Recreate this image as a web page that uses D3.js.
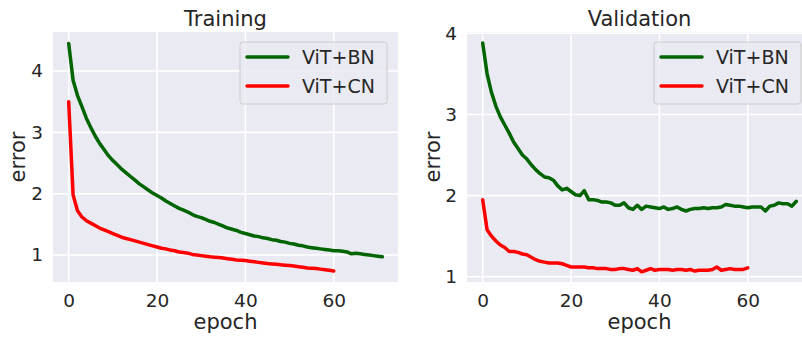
<!DOCTYPE html>
<html>
<head>
<meta charset="utf-8">
<script src="https://cdn.jsdelivr.net/npm/d3@7"></script>
<style>
  html, body { margin: 0; padding: 0; background: #ffffff; }
  svg { display: block; font-family: "DejaVu Sans", sans-serif; }
</style>
</head>
<body>
<svg id="chart" width="802" height="337"></svg>
<script>
// ---------- data ----------
const seriesNames = ["ViT+BN", "ViT+CN"];
const panelTitles = ["Training", "Validation"];
const xTicks = [0, 20, 40, 60];
const yTicksTrain = [1, 2, 3, 4];
const yTicksVal = [1, 2, 3, 4];

const trainBN = [4.45, 3.85, 3.60, 3.42, 3.23, 3.08, 2.94, 2.82, 2.72, 2.62,
  2.54, 2.47, 2.40, 2.34, 2.28, 2.22, 2.16, 2.11, 2.06, 2.01,
  1.97, 1.93, 1.88, 1.84, 1.80, 1.76, 1.73, 1.70, 1.66, 1.63,
  1.61, 1.58, 1.55, 1.53, 1.50, 1.47, 1.44, 1.42, 1.40, 1.37,
  1.35, 1.33, 1.31, 1.30, 1.28, 1.27, 1.25, 1.24, 1.22, 1.21,
  1.19, 1.18, 1.16, 1.15, 1.13, 1.12, 1.11, 1.10, 1.09, 1.08,
  1.07, 1.07, 1.06, 1.05, 1.02, 1.03, 1.02, 1.01, 1.00, 0.99,
  0.98, 0.97];
const trainCN = [3.50, 1.98, 1.72, 1.62, 1.56, 1.52, 1.48, 1.44, 1.41, 1.38,
  1.35, 1.32, 1.29, 1.27, 1.25, 1.23, 1.21, 1.19, 1.17, 1.15,
  1.13, 1.11, 1.10, 1.08, 1.07, 1.05, 1.04, 1.03, 1.01, 1.00,
  0.99, 0.98, 0.97, 0.965, 0.96, 0.95, 0.94, 0.93, 0.92, 0.915,
  0.91, 0.90, 0.89, 0.88, 0.87, 0.86, 0.855, 0.85, 0.84, 0.835,
  0.83, 0.82, 0.81, 0.80, 0.79, 0.785, 0.78, 0.77, 0.76, 0.75,
  0.74];
const valBN = [3.88, 3.50, 3.27, 3.10, 2.97, 2.87, 2.77, 2.66, 2.58, 2.50,
  2.45, 2.38, 2.32, 2.27, 2.23, 2.22, 2.19, 2.12, 2.07, 2.09,
  2.05, 2.01, 2.00, 2.06, 1.95, 1.95, 1.94, 1.92, 1.92, 1.91,
  1.88, 1.88, 1.91, 1.85, 1.83, 1.88, 1.83, 1.87, 1.86, 1.85,
  1.84, 1.86, 1.83, 1.84, 1.86, 1.83, 1.81, 1.83, 1.84, 1.84,
  1.85, 1.84, 1.85, 1.85, 1.86, 1.89, 1.88, 1.87, 1.87, 1.86,
  1.85, 1.86, 1.86, 1.86, 1.81, 1.87, 1.88, 1.91, 1.90, 1.90,
  1.87, 1.93];
const valCN = [1.95, 1.58, 1.50, 1.44, 1.39, 1.36, 1.31, 1.31, 1.30, 1.28,
  1.27, 1.24, 1.21, 1.19, 1.18, 1.17, 1.17, 1.17, 1.16, 1.14,
  1.12, 1.12, 1.12, 1.12, 1.11, 1.11, 1.10, 1.10, 1.10, 1.09,
  1.09, 1.10, 1.10, 1.09, 1.08, 1.10, 1.06, 1.08, 1.10, 1.08,
  1.09, 1.09, 1.09, 1.08, 1.09, 1.09, 1.08, 1.09, 1.07, 1.08,
  1.08, 1.08, 1.09, 1.12, 1.08, 1.09, 1.10, 1.09, 1.09, 1.09,
  1.11];

// ---------- style ----------
const colors = ["#006400", "#ff0000"];
const textColor = "#262626";
const bg = "#eaeaf2";

const svg = d3.select("#chart");

const panels = [
  { title: panelTitles[0], series: [trainBN, trainCN], yTicks: yTicksTrain,
    left: 53, right: 398, top: 32, bottom: 282, yDomain: [0.56, 4.636] },
  { title: panelTitles[1], series: [valBN, valCN], yTicks: yTicksVal,
    left: 467, right: 812, top: 32, bottom: 282, yDomain: [0.935, 4.016] }
];

panels.forEach((p, pi) => {
  const x = d3.scaleLinear().domain([-3.55, 74.55]).range([p.left, p.right]);
  const y = d3.scaleLinear().domain(p.yDomain).range([p.bottom, p.top]);
  const g = svg.append("g");
  const clipId = "clip" + pi;
  svg.append("clipPath").attr("id", clipId)
    .append("rect").attr("x", p.left).attr("y", p.top)
    .attr("width", p.right - p.left).attr("height", p.bottom - p.top);

  g.append("rect").attr("x", p.left).attr("y", p.top)
    .attr("width", p.right - p.left).attr("height", p.bottom - p.top)
    .attr("fill", bg);

  // grid
  const grid = g.append("g").attr("clip-path", `url(#${clipId})`);
  grid.selectAll(".vg").data(xTicks).enter().append("line")
    .attr("x1", d => x(d)).attr("x2", d => x(d))
    .attr("y1", p.top).attr("y2", p.bottom)
    .attr("stroke", "#ffffff").attr("stroke-width", 1.6);
  grid.selectAll(".hg").data(p.yTicks).enter().append("line")
    .attr("x1", p.left).attr("x2", p.right)
    .attr("y1", d => y(d)).attr("y2", d => y(d))
    .attr("stroke", "#ffffff").attr("stroke-width", 1.6);

  // axes (tick labels only)
  const xAxis = d3.axisBottom(x).tickValues(xTicks).tickSize(0).tickPadding(12)
    .tickFormat(d3.format("d"));
  const xa = g.append("g").attr("transform", `translate(0,${p.bottom})`).call(xAxis);
  const yAxis = d3.axisLeft(y).tickValues(p.yTicks).tickSize(0).tickPadding(10)
    .tickFormat(d3.format("d"));
  const ya = g.append("g").attr("transform", `translate(${p.left},0)`).call(yAxis);
  [xa, ya].forEach(a => {
    a.select(".domain").remove();
    a.selectAll("text").attr("fill", textColor)
      .style("font-size", "18.5px").style("font-family", "DejaVu Sans, sans-serif");
  });

  // lines
  const line = d3.line().x((d, i) => x(i)).y(d => y(d));
  const lg = g.append("g").attr("clip-path", `url(#${clipId})`);
  p.series.forEach((s, si) => {
    lg.append("path").datum(s).attr("d", line)
      .attr("fill", "none").attr("stroke", colors[si])
      .attr("stroke-width", 3.5).attr("stroke-linejoin", "round")
      .attr("stroke-linecap", "round");
  });

  // title
  g.append("text").attr("x", (p.left + p.right) / 2).attr("y", 26)
    .attr("text-anchor", "middle").attr("fill", textColor)
    .style("font-size", "21px").text(p.title);
  // x label
  g.append("text").attr("x", (p.left + p.right) / 2).attr("y", 329)
    .attr("text-anchor", "middle").attr("fill", textColor)
    .style("font-size", "21px").text("epoch");
  // y label
  const lx = pi === 0 ? 25 : 440;
  g.append("text").attr("transform", `translate(${lx},${(p.top + p.bottom) / 2}) rotate(-90)`)
    .attr("text-anchor", "middle").attr("fill", textColor)
    .style("font-size", "21px").text("error");

  // legend
  const lgx = p.left + 187, lgy = 42;
  const leg = g.append("g").attr("clip-path", `url(#${clipId})`);
  leg.append("rect").attr("x", lgx).attr("y", lgy).attr("width", 147).attr("height", 62)
    .attr("rx", 3).attr("fill", bg).attr("fill-opacity", 0.8)
    .attr("stroke", "#cccccc").attr("stroke-width", 1);
  seriesNames.forEach((n, i) => {
    const yy = lgy + 15 + i * 29;
    leg.append("line").attr("x1", lgx + 7).attr("x2", lgx + 48)
      .attr("y1", yy).attr("y2", yy)
      .attr("stroke", colors[i]).attr("stroke-width", 3.5).attr("stroke-linecap", "round");
    leg.append("text").attr("x", lgx + 62).attr("y", yy).attr("dy", "0.36em")
      .attr("fill", textColor).style("font-size", "19px").text(n);
  });
});
</script>
</body>
</html>
